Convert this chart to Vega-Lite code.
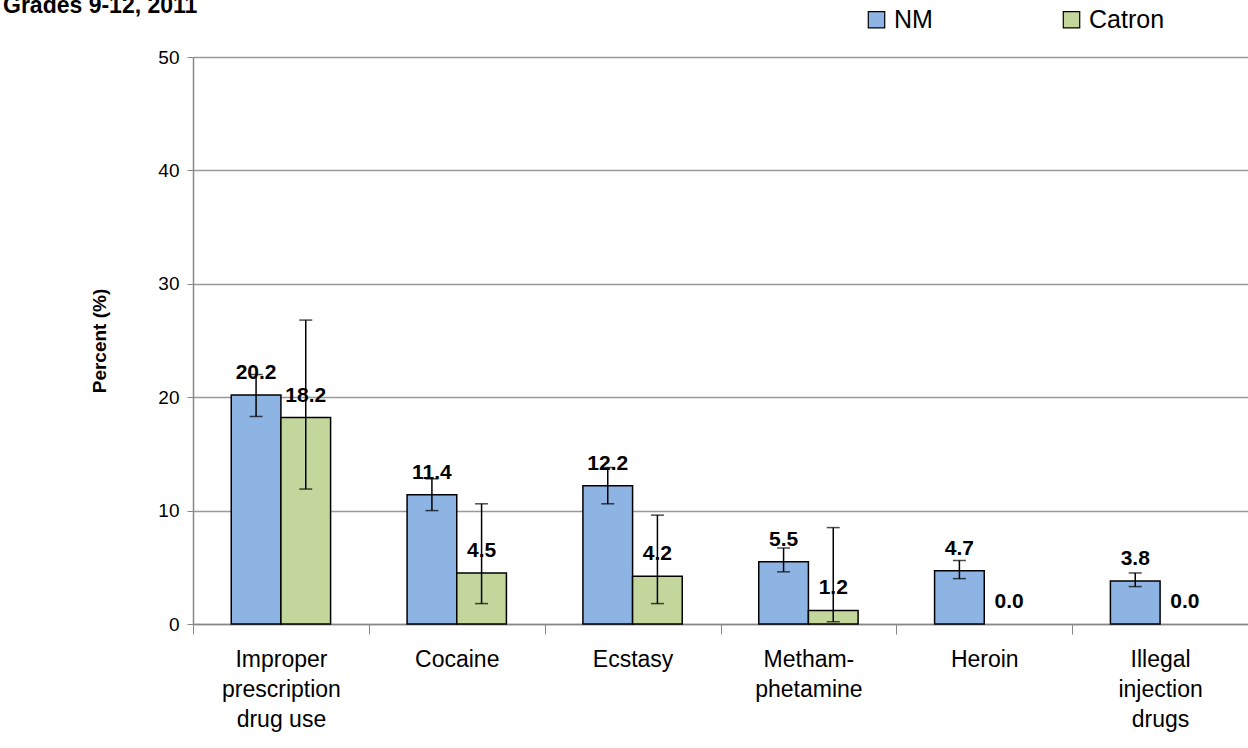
{
  "$schema": "https://vega.github.io/schema/vega-lite/v6.json",
  "autosize": {"type": "none"},
  "padding": {"left": 193, "top": 57, "right": 0, "bottom": 124},
  "width": 1055,
  "height": 567,
  "background": "white",
  "title": {"text": "Grades 9-12, 2011", "anchor": "start", "frame": "group", "dx": -190, "dy": 11, "font": "Liberation Sans", "fontSize": 23, "fontWeight": "bold", "color": "black", "baseline": "top", "offset": 0},
  "config": {
    "font": "Liberation Sans",
    "view": {"stroke": null}
  },
  "data": {"values": [
    {"cat": "Improper|prescription|drug use", "grp": "NM", "value": 20.2, "lo": 18.3, "hi": 22.0},
    {"cat": "Improper|prescription|drug use", "grp": "Catron", "value": 18.2, "lo": 11.9, "hi": 26.8},
    {"cat": "Cocaine", "grp": "NM", "value": 11.4, "lo": 10.0, "hi": 12.8},
    {"cat": "Cocaine", "grp": "Catron", "value": 4.5, "lo": 1.8, "hi": 10.6},
    {"cat": "Ecstasy", "grp": "NM", "value": 12.2, "lo": 10.6, "hi": 13.8},
    {"cat": "Ecstasy", "grp": "Catron", "value": 4.2, "lo": 1.8, "hi": 9.6},
    {"cat": "Metham-|phetamine", "grp": "NM", "value": 5.5, "lo": 4.6, "hi": 6.7},
    {"cat": "Metham-|phetamine", "grp": "Catron", "value": 1.2, "lo": 0.2, "hi": 8.5},
    {"cat": "Heroin", "grp": "NM", "value": 4.7, "lo": 4.0, "hi": 5.6},
    {"cat": "Heroin", "grp": "Catron", "value": 0.0, "lo": null, "hi": null},
    {"cat": "Illegal|injection|drugs", "grp": "NM", "value": 3.8, "lo": 3.3, "hi": 4.5},
    {"cat": "Illegal|injection|drugs", "grp": "Catron", "value": 0.0, "lo": null, "hi": null}
  ]},
  "encoding": {
    "x": {
      "field": "cat", "type": "nominal",
      "sort": ["Improper|prescription|drug use", "Cocaine", "Ecstasy", "Metham-|phetamine", "Heroin", "Illegal|injection|drugs"],
      "scale": {"paddingInner": 0, "paddingOuter": 0},
      "axis": {
        "title": null, "labelAngle": 0, "labelExpr": "split(datum.label, '|')",
        "labelFontSize": 23, "labelColor": "black", "labelLineHeight": 30,
        "labelBaseline": "top", "labelPadding": 14, "tickBand": "extent", "tickSize": 10,
        "tickColor": "#888888", "domainColor": "#888888", "domainWidth": 1.5, "grid": false
      }
    },
    "xOffset": {"field": "grp", "type": "nominal", "sort": ["NM", "Catron"], "scale": {"paddingInner": 0, "paddingOuter": 0.77}}
  },
  "layer": [
    {
      "transform": [{"filter": "datum.value > 0"}],
      "mark": {"type": "bar", "stroke": "black", "strokeWidth": 1.5},
      "encoding": {
        "y": {
          "field": "value", "type": "quantitative",
          "scale": {"domain": [0, 50]},
          "axis": {
            "title": "Percent (%)", "titleFontSize": 19, "titleFontWeight": "bold", "titleColor": "black", "titlePadding": 48,
            "values": [0, 10, 20, 30, 40, 50], "labelFontSize": 19, "labelColor": "black", "labelPadding": 8,
            "tickSize": 6, "tickColor": "#888888", "domainColor": "#888888", "domainWidth": 1.5,
            "gridColor": "#999999", "gridWidth": 1.3
          }
        },
        "fill": {
          "field": "grp", "type": "nominal", "sort": ["NM", "Catron"],
          "scale": {"domain": ["NM", "Catron"], "range": ["#8EB4E3", "#C3D69B"]},
          "legend": {
            "title": null, "orient": "none", "legendX": 671, "legendY": -50, "direction": "horizontal",
            "symbolType": "square", "symbolSize": 270, "symbolStrokeColor": "black", "symbolStrokeWidth": 1.2,
            "labelFontSize": 25, "labelColor": "black", "labelOffset": 5, "columnPadding": 126
          }
        }
      }
    },
    {
      "transform": [{"filter": "datum.lo != null"}],
      "mark": {"type": "rule", "color": "black", "strokeWidth": 1.5},
      "encoding": {"y": {"field": "lo", "type": "quantitative"}, "y2": {"field": "hi"}}
    },
    {
      "transform": [{"filter": "datum.lo != null"}],
      "mark": {"type": "tick", "color": "black", "thickness": 1.5, "size": 13},
      "encoding": {"y": {"field": "lo", "type": "quantitative"}}
    },
    {
      "transform": [{"filter": "datum.lo != null"}],
      "mark": {"type": "tick", "color": "black", "thickness": 1.5, "size": 13},
      "encoding": {"y": {"field": "hi", "type": "quantitative"}}
    },
    {
      "mark": {"type": "text", "baseline": "bottom", "dy": -12, "fontSize": 21, "fontWeight": "bold", "color": "black"},
      "encoding": {
        "y": {"field": "value", "type": "quantitative"},
        "text": {"field": "value", "type": "quantitative", "format": ".1f"}
      }
    }
  ]
}
